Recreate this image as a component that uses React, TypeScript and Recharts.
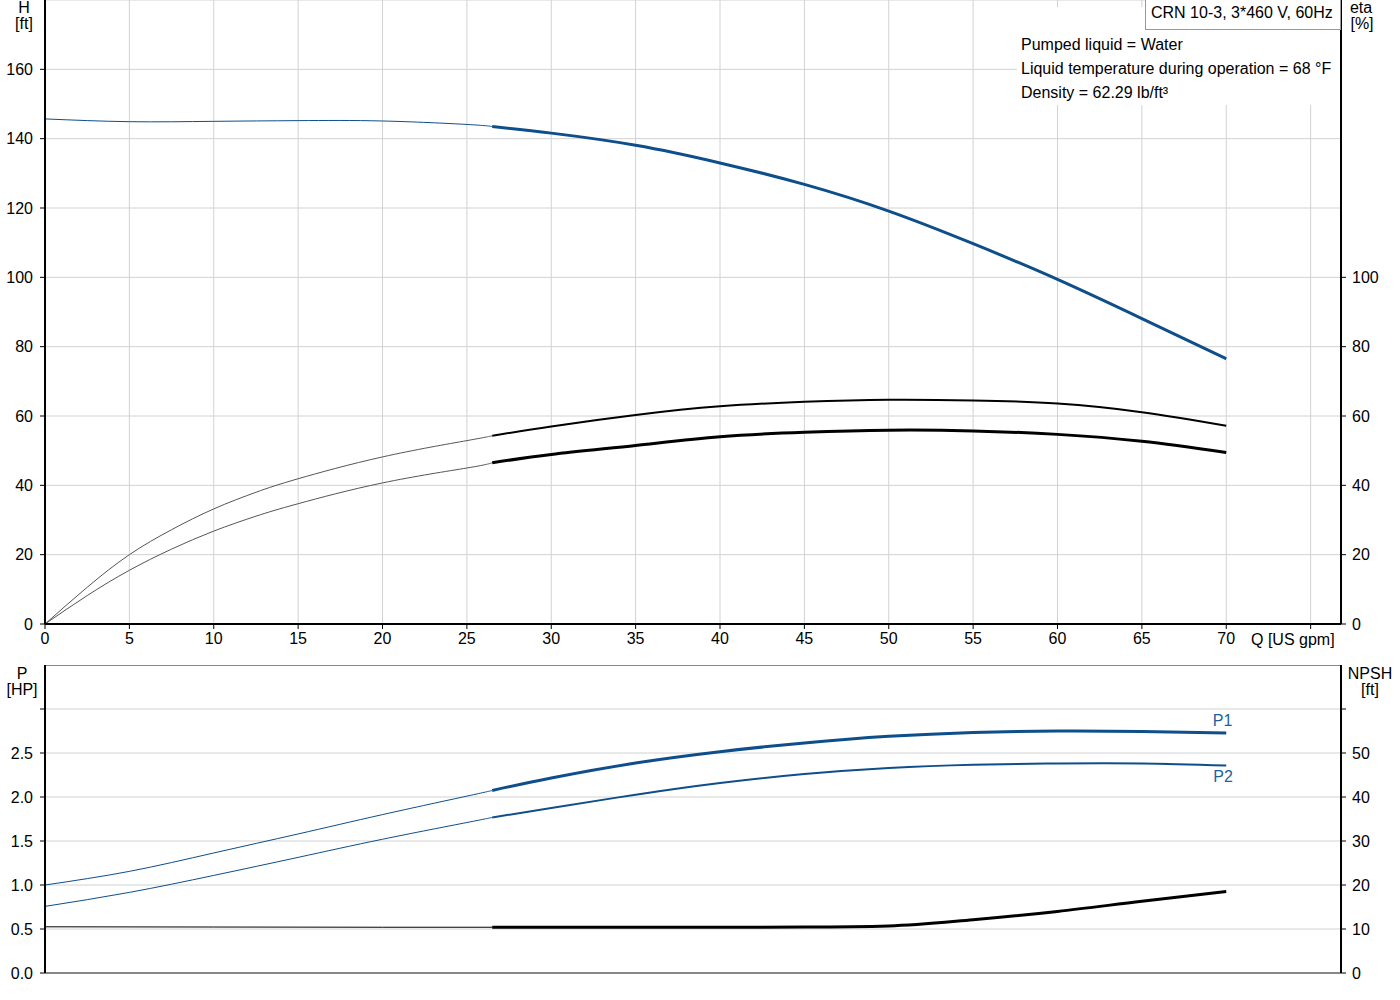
import React from 'react';
import {
  ComposedChart, Line, XAxis, YAxis, CartesianGrid, ReferenceLine,
} from 'recharts';

// flow axis [US gpm]
const qTicks = [0, 5, 10, 15, 20, 25, 30, 35, 40, 45, 50, 55, 60, 65, 70, 75];

// head curve, thin part (outside the recommended range) and thick part
const qHeadThin = [0, 5, 10, 15, 20, 25, 26.5];
const headThin = [145.7, 144.9, 145.0, 145.2, 145.1, 144.1, 143.5];
const qThick = [26.5, 30, 35, 40, 45, 50, 55, 60, 65, 70];
const headThick = [143.5, 141.6, 138.1, 133.0, 126.8, 119.1, 109.7, 99.4, 88.1, 76.5];

// efficiency curves [%]
const qEtaThin = [0, 2.5, 5, 7.5, 10, 12.5, 15, 20, 25, 26.5];
const etaPumpThin = [0, 10.6, 20.0, 27.2, 33.2, 38.0, 41.9, 48.2, 52.9, 54.3];
const etaTotalThin = [0, 8.2, 15.5, 21.6, 26.8, 31.1, 34.7, 40.7, 45.0, 46.5];
const etaPumpThick = [54.3, 57.0, 60.3, 62.8, 64.1, 64.7, 64.5, 63.6, 61.1, 57.2];
const etaTotalThick = [46.5, 48.9, 51.5, 54.0, 55.3, 55.9, 55.7, 54.7, 52.7, 49.5];

// power curves [HP]
const qPowThin = [0, 5, 10, 15, 20, 25, 26.5];
const p1Thin = [1.0, 1.155, 1.364, 1.58, 1.8, 2.01, 2.074];
const p2Thin = [0.757, 0.916, 1.109, 1.314, 1.52, 1.71, 1.768];
const p1Thick = [2.074, 2.216, 2.386, 2.515, 2.614, 2.689, 2.734, 2.75, 2.745, 2.727];
const p2Thick = [1.768, 1.875, 2.026, 2.159, 2.261, 2.33, 2.367, 2.382, 2.382, 2.359];

// NPSH [ft]
const qNpshThin = [0, 10, 20, 26.5];
const npshThin = [10.5, 10.45, 10.4, 10.4];
const npshThick = [10.4, 10.4, 10.4, 10.4, 10.45, 10.7, 12.1, 14.0, 16.3, 18.5];

const hTicks = [0, 20, 40, 60, 80, 100, 120, 140, 160];
const etaTicks = [0, 20, 40, 60, 80, 100];
const pTicks = [0, 0.5, 1, 1.5, 2, 2.5, 3];
const npshTicks = [0, 10, 20, 30, 40, 50, 60];

const FONT = '"Liberation Sans", Arial, sans-serif';
const BLUE = '#0d4e8b';
const LABEL_BLUE = '#1f5f9f';
const GRID = '#d2d2d2';

const pts = (qs: number[], vs: number[]) => qs.map((q, i) => ({ q, v: vs[i] }));

const tickStyle = { fill: '#000', fontSize: 16, fontFamily: FONT };

export default function App() {
  return (
    <div style={{ position: 'absolute', left: 0, top: 0, width: 1400, height: 1000, background: '#fff', fontFamily: FONT }}>
      <div style={{ position: 'absolute', left: 0, top: 0 }}>
        <ComposedChart width={1400} height={660} margin={{ top: 0, right: 0, left: 0, bottom: 0 }}>
          <CartesianGrid yAxisId="h" stroke={GRID} strokeWidth={1} />
          <XAxis
            dataKey="q" type="number" domain={[0, 76.8]} ticks={qTicks} height={36}
            allowDataOverflow
            axisLine={{ stroke: '#000', strokeWidth: 2 }} tickLine={{ stroke: '#000' }}
            tickSize={5} tickMargin={4} tick={tickStyle}
            tickFormatter={(v) => (v === 75 ? '' : String(v))}
          />
          <YAxis
            yAxisId="h" orientation="left" type="number" domain={[0, 180]} ticks={hTicks} width={45}
            axisLine={{ stroke: '#000', strokeWidth: 2 }} tickLine={{ stroke: '#000' }}
            tickSize={5} tickMargin={7} tick={tickStyle}
          />
          <YAxis
            yAxisId="eta" orientation="right" type="number" domain={[0, 180]} ticks={etaTicks} width={59}
            axisLine={{ stroke: '#000', strokeWidth: 2 }} tickLine={{ stroke: '#000' }}
            tickSize={5} tickMargin={6} tick={{ ...tickStyle, textAnchor: 'start' }}
          />
          <Line yAxisId="h" data={pts(qHeadThin, headThin)} dataKey="v" type="natural" stroke={BLUE} strokeWidth={1} dot={false} isAnimationActive={false} />
          <Line yAxisId="h" data={pts(qThick, headThick)} dataKey="v" type="natural" stroke={BLUE} strokeWidth={3} dot={false} isAnimationActive={false} />
          <Line yAxisId="eta" data={pts(qEtaThin, etaPumpThin)} dataKey="v" type="natural" stroke="#555" strokeWidth={1} dot={false} isAnimationActive={false} />
          <Line yAxisId="eta" data={pts(qEtaThin, etaTotalThin)} dataKey="v" type="natural" stroke="#555" strokeWidth={1} dot={false} isAnimationActive={false} />
          <Line yAxisId="eta" data={pts(qThick, etaPumpThick)} dataKey="v" type="natural" stroke="#000" strokeWidth={2} dot={false} isAnimationActive={false} />
          <Line yAxisId="eta" data={pts(qThick, etaTotalThick)} dataKey="v" type="natural" stroke="#000" strokeWidth={3} dot={false} isAnimationActive={false} />
        </ComposedChart>
      </div>

      <div style={{ position: 'absolute', left: 0, top: 665 }}>
        <ComposedChart width={1400} height={334} margin={{ top: 0, right: 0, left: 0, bottom: 0 }}>
          <CartesianGrid yAxisId="p" stroke={GRID} strokeWidth={1} />
          <XAxis
            dataKey="q" type="number" domain={[0, 76.8]} ticks={qTicks} height={26}
            allowDataOverflow
            axisLine={{ stroke: '#888', strokeWidth: 2 }} tickLine={false} tick={false}
          />
          <YAxis
            yAxisId="p" orientation="left" type="number" domain={[0, 3.5]} ticks={pTicks} width={45}
            axisLine={{ stroke: '#000', strokeWidth: 2 }} tickLine={{ stroke: '#000' }}
            tickSize={5} tickMargin={7} tick={tickStyle}
            tickFormatter={(v) => (v === 3 ? '' : Number(v).toFixed(1))}
          />
          <YAxis
            yAxisId="npsh" orientation="right" type="number" domain={[0, 70]} ticks={npshTicks} width={59}
            axisLine={{ stroke: '#000', strokeWidth: 2 }} tickLine={{ stroke: '#000' }}
            tickSize={5} tickMargin={6} tick={{ ...tickStyle, textAnchor: 'start' }}
            tickFormatter={(v) => (v === 60 ? '' : String(v))}
          />
          <ReferenceLine yAxisId="p" y={3.5} stroke="#888" strokeWidth={2} ifOverflow="visible" />
          <Line yAxisId="p" data={pts(qPowThin, p1Thin)} dataKey="v" type="natural" stroke={BLUE} strokeWidth={1} dot={false} isAnimationActive={false} />
          <Line yAxisId="p" data={pts(qPowThin, p2Thin)} dataKey="v" type="natural" stroke={BLUE} strokeWidth={1} dot={false} isAnimationActive={false} />
          <Line yAxisId="p" data={pts(qThick, p1Thick)} dataKey="v" type="natural" stroke={BLUE} strokeWidth={3} dot={false} isAnimationActive={false} />
          <Line yAxisId="p" data={pts(qThick, p2Thick)} dataKey="v" type="natural" stroke={BLUE} strokeWidth={2} dot={false} isAnimationActive={false} />
          <Line yAxisId="npsh" data={pts(qNpshThin, npshThin)} dataKey="v" type="monotone" stroke="#000" strokeWidth={1} dot={false} isAnimationActive={false} />
          <Line yAxisId="npsh" data={pts(qThick, npshThick)} dataKey="v" type="monotone" stroke="#000" strokeWidth={3} dot={false} isAnimationActive={false} />
        </ComposedChart>
      </div>

      {/* axis titles, info box and curve labels */}
      <svg width={1400} height={1000} style={{ position: 'absolute', left: 0, top: 0, pointerEvents: 'none' }}
        fontFamily={FONT} fontSize={16}>
        <text x={24} y={12.5} textAnchor="middle">H</text>
        <text x={24} y={28.5} textAnchor="middle">[ft]</text>
        <text x={1361} y={12.5} textAnchor="middle">eta</text>
        <text x={1362} y={28.5} textAnchor="middle">[%]</text>

        <rect x={1017} y={7} width={323} height={98} fill="#fff" />
        <rect x={1145.5} y={-1} width={195} height={30.5} fill="#fff" stroke="#999" strokeWidth={1} />
        <text x={1151} y={17.5}>CRN 10-3, 3*460 V, 60Hz</text>
        <text x={1021} y={50}>Pumped liquid = Water</text>
        <text x={1021} y={74}>Liquid temperature during operation = 68 °F</text>
        <text x={1021} y={97.5}>Density = 62.29 lb/ft³</text>

        <text x={1251} y={645}>Q [US gpm]</text>

        <text x={22} y={679} textAnchor="middle">P</text>
        <text x={22} y={695} textAnchor="middle">[HP]</text>
        <text x={1370} y={678.5} textAnchor="middle">NPSH</text>
        <text x={1370} y={695} textAnchor="middle">[ft]</text>

        <text x={1222.5} y={725.7} textAnchor="middle" fill={LABEL_BLUE}>P1</text>
        <text x={1223} y={781.7} textAnchor="middle" fill={LABEL_BLUE}>P2</text>
      </svg>
    </div>
  );
}
